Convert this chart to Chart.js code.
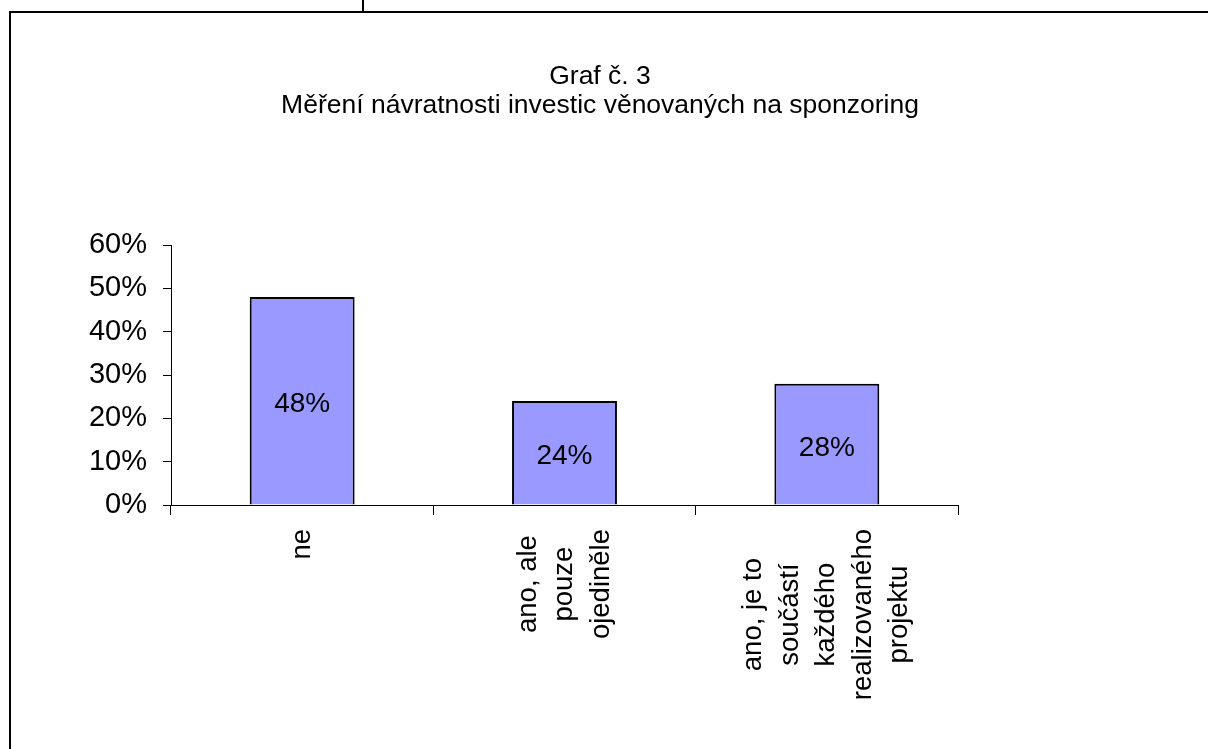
<!DOCTYPE html>
<html>
<head>
<meta charset="utf-8">
<script src="https://cdn.jsdelivr.net/npm/chart.js@4/dist/chart.umd.min.js"></script>
<style>
    html, body { margin: 0; padding: 0; background: #fff; }
    #page { position: relative; width: 1208px; height: 749px; overflow: hidden; }
    #frame {
        position: absolute; left: 9px; top: 11px; right: -4px; bottom: -4px;
        border-left: 2px solid #000; border-top: 2px solid #000;
    }
    #cell { position: absolute; left: 362px; top: 0; width: 2px; height: 12px; background: #000; }
    #chart { position: absolute; left: 0; top: 0; }
</style>
</head>
<body>
<div id="page">
    <div id="frame"></div>
    <div id="cell"></div>
    <canvas id="chart" width="1208" height="749"></canvas>
</div>
<script>
// Data
const titleLines = ['Graf č. 3', 'Měření návratnosti investic věnovaných na sponzoring'];
const categories = [
    ['ne'],
    ['ano, ale', 'pouze', 'ojediněle'],
    ['ano, je to', 'součástí', 'každého', 'realizovaného', 'projektu']
];
const values = [48, 24, 28];
const yMax = 60;
const yStep = 10;

const FONT = '"Liberation Sans", Arial, sans-serif';

// Value labels in the middle of each bar
const valueLabels = {
    id: 'valueLabels',
    afterDatasetsDraw(chart) {
        const ctx = chart.ctx;
        const meta = chart.getDatasetMeta(0);
        ctx.save();
        ctx.font = '28px ' + FONT;
        ctx.fillStyle = '#000';
        ctx.textAlign = 'center';
        ctx.textBaseline = 'middle';
        meta.data.forEach((bar, i) => {
            ctx.fillText(values[i] + '%', bar.x, (bar.y + bar.base) / 2 + 4);
        });
        ctx.restore();
    }
};

// Rotated category labels, lines centred on the category like Excel does
const categoryLabels = {
    id: 'categoryLabels',
    afterDraw(chart) {
        const xs = chart.scales.x;
        const ctx = chart.ctx;
        const lineH = 36.5;
        const top = xs.top + 24;
        ctx.save();
        ctx.font = '27.5px ' + FONT;
        ctx.fillStyle = '#000';
        ctx.textAlign = 'center';
        ctx.textBaseline = 'middle';
        categories.forEach((lines, i) => {
            const x = xs.getPixelForValue(i);
            const w = Math.max(...lines.map(l => ctx.measureText(l).width));
            lines.forEach((line, j) => {
                ctx.save();
                ctx.translate(x + (j - (lines.length - 1) / 2) * lineH, top + w / 2);
                ctx.rotate(-Math.PI / 2);
                ctx.fillText(line, 0, 0);
                ctx.restore();
            });
        });
        ctx.restore();
    }
};

const ctx = document.getElementById('chart').getContext('2d');
new Chart(ctx, {
    type: 'bar',
    data: {
        labels: categories,
        datasets: [{
            data: values,
            backgroundColor: '#9999FF',
            borderColor: '#000',
            borderWidth: 2,
            categoryPercentage: 1,
            barPercentage: 0.4
        }]
    },
    options: {
        responsive: false,
        animation: false,
        events: [],
        layout: { padding: { left: 0, right: 8, top: 0, bottom: 0 } },
        plugins: {
            legend: { display: false },
            tooltip: { enabled: false },
            title: {
                display: true,
                text: titleLines,
                color: '#000',
                font: { family: FONT, size: 26.5, weight: 'normal', lineHeight: 29 / 26.5 },
                padding: { top: 62, bottom: 125 }
            }
        },
        scales: {
            x: {
                afterFit: s => { s.height = 244; },
                border: { color: '#000', width: 1 },
                grid: { drawOnChartArea: false, drawTicks: true, tickLength: 10, color: '#000', offset: true },
                ticks: { display: false }
            },
            y: {
                min: 0,
                max: yMax,
                afterFit: s => { s.width = 171; },
                border: { color: '#000', width: 1 },
                grid: { drawOnChartArea: false, drawTicks: true, tickLength: 8, color: '#000' },
                ticks: {
                    stepSize: yStep,
                    color: '#000',
                    padding: 16,
                    font: { family: FONT, size: 29 },
                    callback: v => v + '%'
                }
            },
            // empty right-hand space so the title centres on the whole frame
            spacer: {
                type: 'linear',
                position: 'right',
                afterFit: s => { s.width = 242; },
                border: { display: false },
                grid: { display: false },
                ticks: { display: false }
            }
        }
    },
    plugins: [valueLabels, categoryLabels]
});
</script>
</body>
</html>
